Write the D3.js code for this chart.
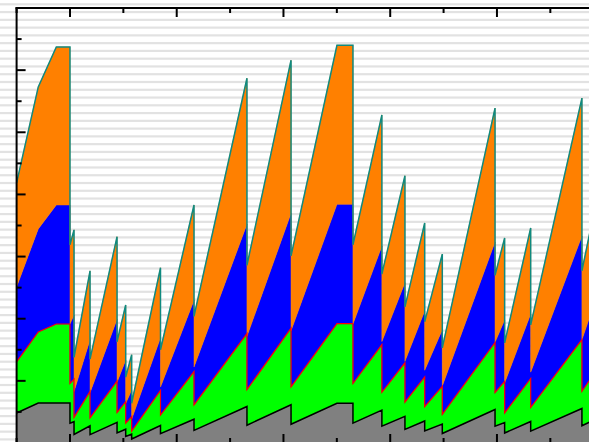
<!DOCTYPE html>
<html>
<head>
<meta charset="utf-8">
<script src="https://cdn.jsdelivr.net/npm/d3@7"></script>
<style>
  body { margin: 0; background: #fff; }
  svg { display: block; }
</style>
</head>
<body>
<div id="vis"></div>
<script>
// time points (repeated value = vertical drop)
var times = [5.0, 7.03, 8.72, 10.0, 10.0, 10.38, 10.38, 11.88, 11.88, 14.41, 14.41, 15.22, 15.22, 15.78, 15.78,
  18.48, 18.48, 21.62, 21.62, 26.58, 26.58, 30.71, 30.71, 35.01, 36.51, 36.51, 39.22, 39.22, 41.38, 41.38,
  43.23, 43.23, 44.88, 44.88, 49.82, 49.82, 50.72, 50.72, 53.16, 53.16, 57.96, 57.96, 59.65];

var gray = [4.83, 6.44, 6.44, 6.44, 3.19, 3.43, 1.38, 2.77, 1.35, 3.32, 1.63, 2.22, 1.06, 1.42, 0.64,
  2.82, 1.50, 3.83, 2.04, 5.87, 2.86, 6.16, 3.01, 6.40, 6.40, 3.19, 5.28, 2.72, 4.30, 2.19,
  3.54, 1.95, 3.04, 1.53, 5.39, 2.70, 3.30, 1.61, 3.46, 1.90, 5.55, 2.77, 4.18];

var green = [8.21, 11.43, 12.71, 12.71, 6.38, 6.86, 2.76, 5.54, 2.70, 6.64, 3.26, 4.44, 2.12, 2.84, 1.28,
  5.64, 3.00, 7.66, 4.08, 11.74, 5.72, 12.32, 6.02, 12.80, 12.80, 6.38, 10.56, 5.44, 8.60, 4.38,
  7.08, 3.90, 6.08, 3.06, 10.78, 5.40, 6.60, 3.22, 6.92, 3.80, 11.10, 5.54, 8.36];

var blue = [12.07, 16.58, 19.15, 19.15, 9.57, 10.29, 4.14, 8.31, 4.05, 9.96, 4.89, 6.66, 3.18, 4.26, 1.92,
  8.46, 4.50, 11.49, 6.12, 17.61, 8.58, 18.48, 9.03, 19.20, 19.20, 9.57, 15.84, 8.16, 12.90, 6.57,
  10.62, 5.85, 9.12, 4.59, 16.17, 8.10, 9.90, 4.83, 10.38, 5.70, 16.65, 8.31, 12.54];

var orange = [16.74, 22.85, 25.43, 25.43, 12.76, 13.72, 5.52, 11.08, 5.40, 13.28, 6.52, 8.88, 4.24, 5.68, 2.56,
  11.28, 6.00, 15.32, 8.16, 23.48, 11.44, 24.64, 12.04, 25.60, 25.60, 12.76, 21.12, 10.88, 17.20, 8.76,
  14.16, 7.80, 12.16, 6.12, 21.56, 10.80, 13.20, 6.44, 13.84, 7.60, 22.20, 11.08, 16.72];

var keys = ["gray", "green", "blue", "orange"];
var fills = {gray: "#808080", green: "#00ff00", blue: "#0000ff", orange: "#ff8000"};
var edges = {gray: "#000000", green: "#ff0000", blue: null, orange: "#108a80"};
var edgeWidth = {gray: 1.5, green: 1.2, orange: 1.5};

var W = 589, H = 442;
var pL = 16.6, pT = 8, pB = 443, pR = 603.7;   // plot box (runs past the right/bottom edge)

function main() {
  var svg = d3.select("#vis").append("svg")
    .attr("width", W)
    .attr("height", H);

  // striped page background
  var stripes = d3.range(3.2, H, 7.77);
  svg.selectAll("rect.stripe")
    .data(stripes)
  .enter().append("rect")
    .attr("class", "stripe")
    .attr("x", 0)
    .attr("y", function(d){ return d; })
    .attr("width", W)
    .attr("height", 2.2)
    .attr("fill", "#e2e2e2");

  var x = d3.scaleLinear().domain([5, 60]).range([pL, pR]);
  var y = d3.scaleLinear().domain([0, 70]).range([pB, pT]);

  var rows = times.map(function(t, i){
    return {t: t, gray: gray[i], green: green[i], blue: blue[i], orange: orange[i]};
  });
  var series = d3.stack().keys(keys)(rows);

  svg.append("clipPath").attr("id", "clip")
    .append("rect")
    .attr("x", pL).attr("y", pT)
    .attr("width", pR - pL).attr("height", pB - pT);

  var plot = svg.append("g").attr("clip-path", "url(#clip)");

  var area = d3.area()
    .x(function(d){ return x(d.data.t); })
    .y0(function(d){ return y(d[0]); })
    .y1(function(d){ return y(d[1]); });

  var topline = d3.line()
    .x(function(d){ return x(d.data.t); })
    .y(function(d){ return y(d[1]); });

  plot.selectAll("path.layer")
    .data(series)
  .enter().append("path")
    .attr("class", "layer")
    .attr("fill", function(d){ return fills[d.key]; })
    .attr("stroke", function(d){ return fills[d.key]; })
    .attr("stroke-width", 0.5)
    .attr("d", area);

  plot.selectAll("path.edge")
    .data(series.filter(function(s){ return edges[s.key]; }))
  .enter().append("path")
    .attr("class", "edge")
    .attr("fill", "none")
    .attr("stroke", function(d){ return edges[d.key]; })
    .attr("stroke-width", function(d){ return edgeWidth[d.key]; })
    .attr("d", topline);

  // frame + inward ticks
  var majorX = d3.range(10, 61, 10), minorX = d3.range(5, 61, 10);
  var majorY = d3.range(0, 71, 10), minorY = d3.range(5, 71, 10);
  var ax = svg.append("g").attr("stroke", "#000").attr("stroke-width", 2);

  ax.append("line").attr("x1", pL - 1).attr("x2", pR).attr("y1", pT).attr("y2", pT);
  ax.append("line").attr("x1", pL).attr("x2", pL).attr("y1", pT - 1).attr("y2", pB + 1);
  ax.append("line").attr("x1", pL - 1).attr("x2", pR).attr("y1", pB).attr("y2", pB);

  function xticks(vals, len) {
    vals.forEach(function(v){
      ax.append("line").attr("x1", x(v)).attr("x2", x(v)).attr("y1", pT).attr("y2", pT + len);
      ax.append("line").attr("x1", x(v)).attr("x2", x(v)).attr("y1", pB).attr("y2", pB - len);
    });
  }
  function yticks(vals, len) {
    vals.forEach(function(v){
      ax.append("line").attr("x1", pL).attr("x2", pL + len).attr("y1", y(v)).attr("y2", y(v));
    });
  }
  xticks(majorX, 9); xticks(minorX, 5);
  yticks(majorY, 9); yticks(minorY, 5);
}

main();
</script>
</body>
</html>
